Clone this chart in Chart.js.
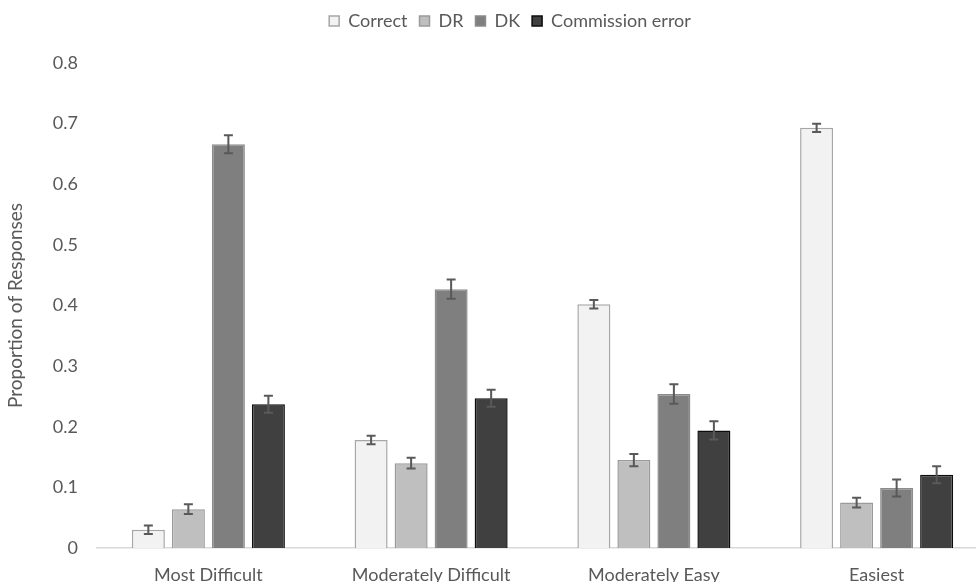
<!DOCTYPE html>
<html>
<head>
<meta charset="utf-8">
<script src="https://cdn.jsdelivr.net/npm/chart.js@4/dist/chart.umd.min.js"></script>
<style>
  html, body { margin: 0; padding: 0; background: #ffffff; overflow: hidden; }
  #wrap { width: 990px; height: 582px; }
</style>
</head>
<body>
<div id="wrap"><canvas id="c" width="990" height="582"></canvas></div>
<script>
// ---- data ----
const categories = ['Most Difficult', 'Moderately Difficult', 'Moderately Easy', 'Easiest'];
const seriesNames = ['Correct', 'DR', 'DK', 'Commission error'];
const correctValues    = [0.030, 0.178, 0.402, 0.693];
const drValues         = [0.064, 0.140, 0.145, 0.075];
const dkValues         = [0.666, 0.427, 0.254, 0.099];
const commissionValues = [0.237, 0.247, 0.194, 0.121];
const correctErr    = [0.007, 0.007, 0.007, 0.007];
const drErr         = [0.008, 0.009, 0.010, 0.008];
const dkErr         = [0.015, 0.016, 0.016, 0.014];
const commissionErr = [0.014, 0.014, 0.015, 0.014];
const yTickLabels = ['0', '0.1', '0.2', '0.3', '0.4', '0.5', '0.6', '0.7', '0.8'];

const FONT = 'Lato, "Open Sans", sans-serif';
const TEXT = '#595959';

const errorBars = {
  id: 'errorBars',
  afterDatasetsDraw(chart) {
    const ctx = chart.ctx;
    const y = chart.scales.y;
    ctx.save();
    ctx.strokeStyle = '#595959';
    ctx.lineWidth = 2;
    chart.data.datasets.forEach((ds, di) => {
      const meta = chart.getDatasetMeta(di);
      meta.data.forEach((bar, i) => {
        const v = ds.data[i], e = ds.errors[i];
        const top = y.getPixelForValue(v + e);
        const bot = y.getPixelForValue(v - e);
        const x = bar.x, h = 4.5;
        ctx.beginPath();
        ctx.moveTo(x, top); ctx.lineTo(x, bot);
        ctx.moveTo(x - h, top); ctx.lineTo(x + h, top);
        ctx.moveTo(x - h, bot); ctx.lineTo(x + h, bot);
        ctx.stroke();
      });
    });
    ctx.restore();
  }
};

const legendShift = {
  id: 'legendShift',
  afterLayout(chart) {
    const dx = 16, dy = -23;
    chart.legend.left += dx;
    chart.legend.right += dx;
    chart.legend.top += dy;
    chart.legend.bottom += dy;
  }
};

const mk = (label, data, errors, bg, border) => ({
  label, data, errors,
  backgroundColor: bg, borderColor: border, borderWidth: 1.5,
  categoryPercentage: 0.7185, barPercentage: 0.825
});

new Chart(document.getElementById('c'), {
  type: 'bar',
  data: {
    labels: categories,
    datasets: [
      mk(seriesNames[0], correctValues, correctErr, '#f2f2f2', '#a6a6a6'),
      mk(seriesNames[1], drValues, drErr, '#bfbfbf', '#9a9a9a'),
      mk(seriesNames[2], dkValues, dkErr, '#7f7f7f', '#8c8c8c'),
      mk(seriesNames[3], commissionValues, commissionErr, '#404040', '#0d0d0d')
    ]
  },
  options: {
    responsive: false,
    devicePixelRatio: 1,
    animation: false,
    layout: { padding: { top: 23, right: 2, left: 0, bottom: 0 } },
    plugins: {
      tooltip: { enabled: false },
      legend: {
        position: 'top',
        labels: {
          boxWidth: 10, boxHeight: 10, padding: 12,
          color: TEXT, font: { family: FONT, size: 18 }
        }
      }
    },
    scales: {
      x: {
        grid: { display: false },
        border: { display: true, color: '#d9d9d9', width: 1.5 },
        ticks: { color: TEXT, font: { family: FONT, size: 18 }, padding: 8 },
        afterFit(s) { s.height = 34; }
      },
      y: {
        min: 0, max: 0.8,
        grid: { display: false, drawTicks: false },
        border: { display: false },
        ticks: {
          stepSize: 0.1, color: TEXT, padding: 19,
          font: { family: FONT, size: 18 },
          callback: (v, i) => yTickLabels[i]
        },
        title: {
          display: true, text: 'Proportion of Responses', color: TEXT,
          font: { family: FONT, size: 19 }, padding: { top: 4, bottom: 0 }
        },
        afterFit(s) { s.width = 97; }
      }
    }
  },
  plugins: [errorBars, legendShift]
});
</script>
</body>
</html>
